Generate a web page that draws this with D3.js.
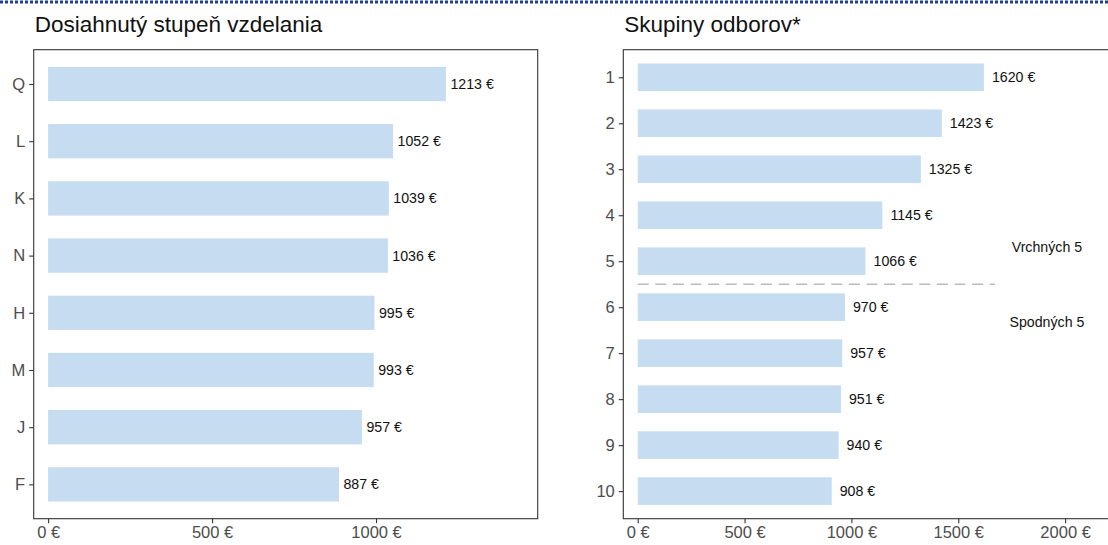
<!DOCTYPE html>
<html>
<head>
<meta charset="utf-8">
<script src="https://cdn.jsdelivr.net/npm/d3@7"></script>
<style>
  body { margin: 0; background: #fff; }
  svg { display: block; font-family: "Liberation Sans", Arial, sans-serif; }
</style>
</head>
<body>
<svg id="chart" width="1108" height="545"></svg>
<script>
// left panel: education level
const eduCategories = ['Q', 'L', 'K', 'N', 'H', 'M', 'J', 'F'];
const eduValues = [1213, 1052, 1039, 1036, 995, 993, 957, 887];
const eduTicks = [0, 500, 1000];

// right panel: groups of fields
const fieldCategories = ['1', '2', '3', '4', '5', '6', '7', '8', '9', '10'];
const fieldValues = [1620, 1423, 1325, 1145, 1066, 970, 957, 951, 940, 908];
const fieldTicks = [0, 500, 1000, 1500, 2000];
const groupLabels = ['Vrchných 5', 'Spodných 5'];

const svg = d3.select('#chart');
const barColor = '#c6dcf0';
const fmt = d => `${d} €`;

// dotted line at the very top
svg.append('line')
    .attr('x1', 0).attr('x2', 1108)
    .attr('y1', 2).attr('y2', 2)
    .attr('stroke', '#1f3e9c')
    .attr('stroke-width', 3)
    .attr('stroke-dasharray', '3,2');

const drawPanel = (opts) => {
    const { left, right, top, bottom, xDomain, cats, vals, ticks, title, labelGap } = opts;
    const g = svg.append('g');

    const x = d3.scaleLinear().domain(xDomain).range([left, right]);
    const y = d3.scalePoint().domain(cats).range([top, bottom]).padding(0.6);
    const step = y.step();
    const bh = step * 0.6;

    g.append('text')
        .attr('x', left + 1).attr('y', 32)
        .attr('font-size', 22.5)
        .attr('fill', '#111')
        .text(title);

    g.selectAll('rect.bar')
        .data(vals)
        .enter().append('rect')
        .attr('class', 'bar')
        .attr('x', x(0))
        .attr('y', (d, i) => y(cats[i]) - bh / 2)
        .attr('width', d => x(d) - x(0))
        .attr('height', bh)
        .attr('fill', barColor);

    g.selectAll('text.val')
        .data(vals)
        .enter().append('text')
        .attr('class', 'val')
        .attr('x', d => x(d) + labelGap)
        .attr('y', (d, i) => y(cats[i]))
        .attr('dy', '0.35em')
        .attr('font-size', 14.2)
        .attr('fill', '#111')
        .text(fmt);

    // frame
    g.append('rect')
        .attr('x', left).attr('y', top)
        .attr('width', right - left).attr('height', bottom - top)
        .attr('fill', 'none')
        .attr('stroke', '#333')
        .attr('stroke-width', 1.1);

    const yAxis = g.append('g')
        .attr('transform', `translate(${left},0)`)
        .call(d3.axisLeft(y).tickSize(4.5).tickPadding(4));
    yAxis.select('.domain').remove();
    yAxis.selectAll('line').attr('stroke', '#333').attr('stroke-width', 1.1);
    yAxis.selectAll('text').attr('font-size', 16.5).attr('fill', '#4d4d4d').attr('font-family', null);

    const xAxis = g.append('g')
        .attr('transform', `translate(0,${bottom})`)
        .call(d3.axisBottom(x).tickValues(ticks).tickFormat(fmt).tickSize(4.5).tickPadding(3));
    xAxis.select('.domain').remove();
    xAxis.selectAll('line').attr('stroke', '#333').attr('stroke-width', 1.1);
    xAxis.selectAll('text').attr('font-size', 16.5).attr('fill', '#4d4d4d').attr('font-family', null);

    return { g, x, y };
};

drawPanel({
    left: 33.7, right: 537.7, top: 49.7, bottom: 518.7,
    xDomain: [-44, 1493],
    cats: eduCategories, vals: eduValues, ticks: eduTicks,
    title: 'Dosiahnutý stupeň vzdelania', labelGap: 4.5
});

const rp = drawPanel({
    left: 623.3, right: 1160, top: 49.7, bottom: 518.7,
    xDomain: [-67.4, (1160 - 637.7) / 0.2137],
    cats: fieldCategories, vals: fieldValues, ticks: fieldTicks,
    title: 'Skupiny odborov*', labelGap: 8
});

// separator between top 5 and bottom 5
const sepY = (rp.y('5') + rp.y('6')) / 2;
rp.g.append('line')
    .attr('x1', rp.x(0)).attr('x2', rp.x(1672))
    .attr('y1', sepY).attr('y2', sepY)
    .attr('stroke', '#bbbbbb')
    .attr('stroke-width', 1.5)
    .attr('stroke-dasharray', '11,6.6');

const step = rp.y.step();
rp.g.selectAll('text.grp')
    .data(groupLabels)
    .enter().append('text')
    .attr('class', 'grp')
    .attr('x', rp.x(1915))
    .attr('y', (d, i) => i === 0 ? rp.y('5') - 0.3 * step : rp.y('6') + 0.33 * step)
    .attr('dy', '0.35em')
    .attr('text-anchor', 'middle')
    .attr('font-size', 14.2)
    .attr('fill', '#111')
    .text(d => d);
</script>
</body>
</html>
